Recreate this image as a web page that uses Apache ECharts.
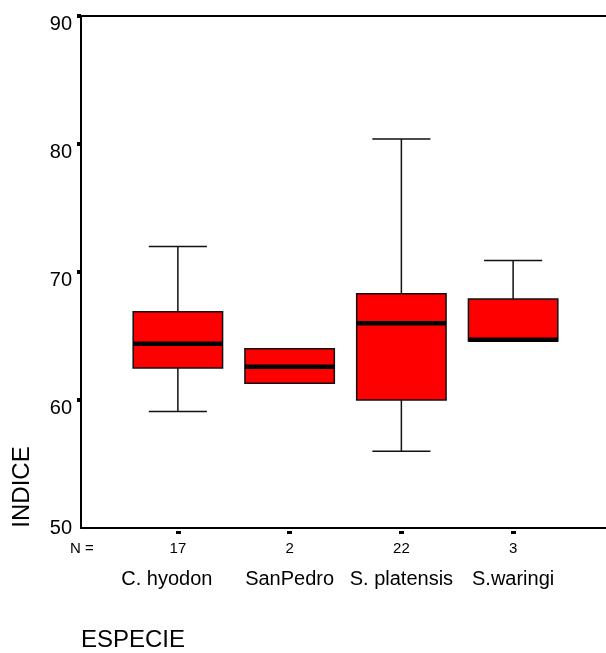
<!DOCTYPE html>
<html>
<head>
<meta charset="utf-8">
<script src="https://cdn.jsdelivr.net/npm/echarts@6/dist/echarts.min.js"></script>
<style>
  html, body { margin: 0; padding: 0; background: #fff; }
  #chart { width: 606px; height: 653px; }
</style>
</head>
<body>
<div id="chart"></div>
<script>
// datos
const categories = ['C. hyodon', 'SanPedro', 'S. platensis', 'S.waringi'];
const counts = [17, 2, 22, 3];
const lowWhisker = [59.1, 61.3, 56.0, 64.6];
const q1 = [62.5, 61.3, 60.0, 64.6];
const median = [64.4, 62.6, 66.0, 64.7];
const q3 = [66.9, 64.0, 68.3, 67.9];
const highWhisker = [72.0, 64.0, 80.4, 70.9];
const yMin = 50, yMax = 90, yStep = 10;

const font = 'Liberation Sans, Arial, sans-serif';

const boxData = categories.map(function (c, i) {
  return [i, lowWhisker[i], q1[i], median[i], q3[i], highWhisker[i]];
});

// caja dibujada a mano para tener bigotes cortos y mediana gruesa
function renderBox(params, api) {
  var i = api.value(0);
  var pLow = api.coord([i, api.value(1)]);
  var pQ1 = api.coord([i, api.value(2)]);
  var pMed = api.coord([i, api.value(3)]);
  var pQ3 = api.coord([i, api.value(4)]);
  var pHigh = api.coord([i, api.value(5)]);
  var band = api.size([1, 0])[0];
  var bw = band * 0.8, cw = band * 0.52;
  var cx = pQ1[0];
  var lineStyle = { stroke: '#111', lineWidth: 1.5 };
  var children = [];
  if (api.value(5) > api.value(4)) {
    children.push({ type: 'line', shape: { x1: cx, y1: pHigh[1], x2: cx, y2: pQ3[1] }, style: lineStyle });
    children.push({ type: 'line', shape: { x1: cx - cw / 2, y1: pHigh[1], x2: cx + cw / 2, y2: pHigh[1] }, style: lineStyle });
  }
  if (api.value(1) < api.value(2)) {
    children.push({ type: 'line', shape: { x1: cx, y1: pLow[1], x2: cx, y2: pQ1[1] }, style: lineStyle });
    children.push({ type: 'line', shape: { x1: cx - cw / 2, y1: pLow[1], x2: cx + cw / 2, y2: pLow[1] }, style: lineStyle });
  }
  children.push({
    type: 'rect',
    shape: { x: cx - bw / 2, y: pQ3[1], width: bw, height: pQ1[1] - pQ3[1] },
    style: { fill: '#ff0000', stroke: '#111', lineWidth: 1.5 }
  });
  children.push({
    type: 'line',
    shape: { x1: cx - bw / 2, y1: pMed[1], x2: cx + bw / 2, y2: pMed[1] },
    style: { stroke: '#000', lineWidth: 4.5 }
  });
  return { type: 'group', children: children };
}

var myChart = echarts.init(document.getElementById('chart'));
var option = {
  animation: false,
  backgroundColor: '#fff',
  textStyle: { fontFamily: font, color: '#000' },
  grid: [
    { left: 81, right: 0, top: 16, bottom: 125, outerBoundsMode: 'none' },
    { left: 122, right: 37, top: 16, bottom: 125, outerBoundsMode: 'none' }
  ],
  xAxis: [
    {
      gridIndex: 0, type: 'value', min: 0, max: 1, position: 'bottom',
      axisLine: { show: true, lineStyle: { color: '#000', width: 2 } },
      axisTick: { show: false }, axisLabel: { show: false }, splitLine: { show: false }
    },
    {
      gridIndex: 0, type: 'value', min: 0, max: 1, position: 'top',
      axisLine: { show: true, lineStyle: { color: '#000', width: 2 } },
      axisTick: { show: false }, axisLabel: { show: false }, splitLine: { show: false }
    },
    {
      gridIndex: 1, type: 'category', data: categories, offset: 3,
      axisLine: { show: false },
      axisTick: { show: true, alignWithLabel: true, length: 3, lineStyle: { color: '#000', width: 5 } },
      axisLabel: {
        margin: 9,
        formatter: function (v, i) {
          // el primer nombre esta corrido a la izquierda en el original
          return '{n|' + counts[i] + '}\n{' + (i === 0 ? 'c0' : 'c') + '|' + v + '}';
        },
        rich: {
          n: { fontSize: 15, lineHeight: 18, fontFamily: font, color: '#000' },
          c: { fontSize: 20, lineHeight: 42, fontFamily: font, color: '#000' },
          c0: { fontSize: 20, lineHeight: 42, fontFamily: font, color: '#000', padding: [0, 22, 0, 0] }
        }
      },
      splitLine: { show: false }
    }
  ],
  yAxis: [
    {
      gridIndex: 0, type: 'value', min: yMin, max: yMax, interval: yStep, position: 'left',
      axisLine: { show: true, lineStyle: { color: '#000', width: 2 } },
      axisTick: { show: true, length: 4, lineStyle: { color: '#000', width: 4 } },
      axisLabel: {
        showMinLabel: false, margin: 9, fontSize: 20, color: '#000',
        fontFamily: font, verticalAlign: 'top', lineHeight: 16
      },
      splitLine: { show: false }
    },
    {
      gridIndex: 0, type: 'value', min: yMin, max: yMax, interval: yStep, position: 'left',
      axisLine: { show: false }, axisTick: { show: false },
      axisLabel: {
        margin: 9, fontSize: 20, color: '#000', fontFamily: font,
        verticalAlign: 'middle', lineHeight: 20, padding: [0, 0, 6, 0],
        formatter: function (v) { return v === yMin ? String(v) : ''; }
      },
      splitLine: { show: false }
    },
    {
      gridIndex: 1, type: 'value', min: yMin, max: yMax, show: false
    }
  ],
  graphic: [
    {
      type: 'text', left: 70, top: 541,
      style: { text: 'N =', fontSize: 15, fontFamily: font, fill: '#000' }
    },
    {
      type: 'text', x: 22, y: 487, rotation: Math.PI / 2,
      style: { text: 'INDICE', fontSize: 24, fontFamily: font, fill: '#000', align: 'center', verticalAlign: 'middle' }
    },
    {
      type: 'text', left: 81, top: 628,
      style: { text: 'ESPECIE', fontSize: 24, fontFamily: font, fill: '#000' }
    }
  ],
  series: [
    {
      type: 'custom',
      xAxisIndex: 2,
      yAxisIndex: 2,
      renderItem: renderBox,
      encode: { x: 0, y: [1, 2, 3, 4, 5] },
      data: boxData
    }
  ]
};
myChart.setOption(option);
</script>
</body>
</html>
